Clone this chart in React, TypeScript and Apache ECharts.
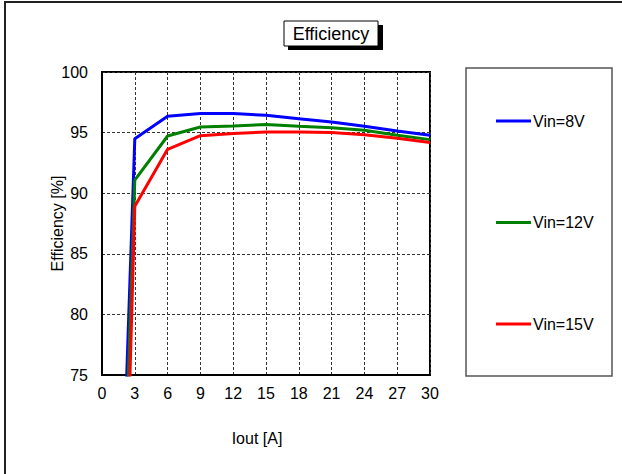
import React, { useEffect, useRef } from "react";
import * as echarts from "echarts";

const currents = [2, 3, 6, 9, 12, 15, 18, 21, 24, 27, 30];
const eff8V = [68.1, 94.5, 96.35, 96.57, 96.57, 96.43, 96.15, 95.88, 95.52, 95.13, 94.78];
const eff12V = [63.9, 91.07, 94.72, 95.46, 95.55, 95.66, 95.52, 95.41, 95.19, 94.78, 94.42];
const eff15V = [57.3, 88.92, 93.62, 94.75, 94.92, 95.05, 95.05, 95.0, 94.83, 94.53, 94.18];
const seriesNames = ["Vin=8V", "Vin=12V", "Vin=15V"];
const seriesColors = ["#0000ff", "#008000", "#ff0000"];
const titleText = "Efficiency";
const xName = "Iout [A]";
const yName = "Efficiency [%]";

const FONT = "'Liberation Sans', Arial, sans-serif";

export default function App() {
  const ref = useRef<HTMLDivElement>(null);
  useEffect(() => {
    document.body.style.margin = "0";
    const chart = echarts.init(ref.current!, null, { renderer: "svg" });
    const datasets = [eff8V, eff12V, eff15V];
    chart.setOption({
      animation: false,
      backgroundColor: "#ffffff",
      textStyle: { fontFamily: FONT },
      graphic: [
        {
          type: "rect",
          shape: { x: 5, y: 2, width: 700, height: 600 },
          style: { fill: "none", stroke: "#222", lineWidth: 2 },
          silent: true,
        },
        {
          type: "rect",
          shape: { x: 288, y: 25, width: 95, height: 25 },
          style: { fill: "#000" },
          silent: true,
        },
        {
          type: "rect",
          shape: { x: 284, y: 21, width: 94, height: 25 },
          style: { fill: "#fff", stroke: "#000", lineWidth: 1 },
          silent: true,
        },
        {
          type: "text",
          x: 331,
          y: 34,
          style: {
            text: titleText,
            fontSize: 18,
            fontFamily: FONT,
            fill: "#000",
            align: "center",
            verticalAlign: "middle",
          },
          silent: true,
        },
        {
          type: "rect",
          shape: { x: 466, y: 68, width: 146, height: 308 },
          style: { fill: "none", stroke: "#555", lineWidth: 1.5 },
          silent: true,
        },
      ],
      legend: {
        orient: "vertical",
        left: 496,
        top: 113,
        padding: 0,
        itemGap: 85.5,
        itemWidth: 35,
        itemHeight: 3,
        icon: "rect",
        textStyle: { fontSize: 16, fontFamily: FONT, color: "#000", padding: [0, 0, 0, -3] },
        data: seriesNames,
      },
      grid: {
        left: 102,
        top: 72,
        right: 192,
        bottom: 99,
        containLabel: false,
        show: true,
        borderColor: "#000",
        borderWidth: 2,
        backgroundColor: "transparent",
      },
      xAxis: {
        type: "value",
        min: 0,
        max: 30,
        interval: 3,
        name: xName,
        nameLocation: "middle",
        nameGap: 55,
        nameTextStyle: { fontSize: 16, fontFamily: FONT, color: "#000", padding: [0, 18, 0, 0] },
        axisLine: { show: true, onZero: false, lineStyle: { color: "#000", width: 2 } },
        axisTick: { show: false },
        axisLabel: { fontSize: 16, fontFamily: FONT, color: "#000", margin: 10 },
        splitLine: { show: true, lineStyle: { color: "#333", type: [3, 2], width: 1 } },
      },
      yAxis: {
        type: "value",
        min: 75,
        max: 100,
        interval: 5,
        name: yName,
        nameLocation: "middle",
        nameGap: 37,
        nameMoveOverlap: false,
        nameRotate: 90,
        nameTextStyle: { fontSize: 16, fontFamily: FONT, color: "#000" },
        axisLine: { show: true, lineStyle: { color: "#000", width: 2 } },
        axisTick: { show: false },
        axisLabel: { fontSize: 16, fontFamily: FONT, color: "#000", margin: 14 },
        splitLine: { show: true, lineStyle: { color: "#333", type: [3, 2], width: 1 } },
      },
      series: seriesNames.map((name, i) => ({
        name,
        type: "line",
        data: currents.map((x, j) => [x, datasets[i][j]]),
        showSymbol: false,
        symbol: "none",
        clip: true,
        lineStyle: { color: seriesColors[i], width: 3 },
        itemStyle: { color: seriesColors[i] },
      })),
    });
    return () => chart.dispose();
  }, []);
  return <div ref={ref} style={{ width: 622, height: 474 }} />;
}
